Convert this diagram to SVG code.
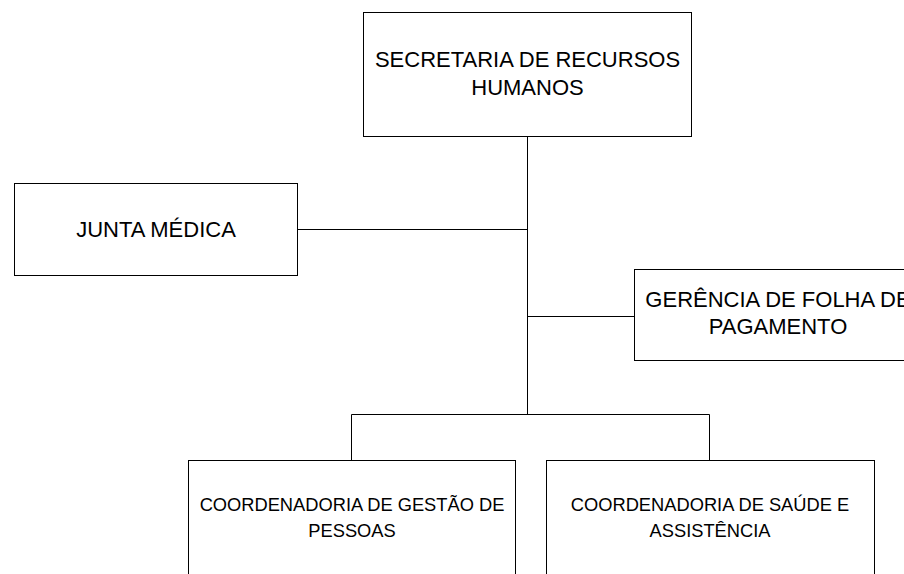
<svg xmlns="http://www.w3.org/2000/svg" width="904" height="574" viewBox="0 0 904 574">
<style>
.box{fill:#fff;stroke:#000;stroke-width:1}
.t{font-family:"Liberation Sans",Arial,sans-serif;fill:#000;text-anchor:middle}
.l{font-size:22px}
.s{font-size:18.3px}
.c{fill:none;stroke:#000;stroke-width:1}
</style>
<rect width="904" height="574" fill="#fff"/>
<g id="connectors">
<path class="c" d="M527.5 136V414.5M297 229.5H527.5M527.5 316.5H634M351.5 460V414.5H709.5V460"/>
</g>
<g id="secretaria">
<rect class="box" x="363.5" y="12.5" width="328" height="124"/>
<text class="t l" x="527.5" y="67">SECRETARIA DE RECURSOS</text>
<text class="t l" x="527.5" y="95">HUMANOS</text>
</g>
<g id="junta">
<rect class="box" x="14.5" y="183.5" width="283" height="92"/>
<text class="t l" x="156" y="237">JUNTA MÉDICA</text>
</g>
<g id="gerencia">
<rect class="box" x="634.5" y="269.5" width="292" height="91"/>
<text class="t l" x="778" y="307">GERÊNCIA DE FOLHA DE</text>
<text class="t l" x="778" y="334">PAGAMENTO</text>
</g>
<g id="gestao">
<rect class="box" x="188.5" y="460.5" width="327" height="130"/>
<text class="t s" x="352" y="511">COORDENADORIA DE GESTÃO DE</text>
<text class="t s" x="352" y="537">PESSOAS</text>
</g>
<g id="saude">
<rect class="box" x="546.5" y="460.5" width="328" height="130"/>
<text class="t s" x="710" y="511">COORDENADORIA DE SAÚDE E</text>
<text class="t s" x="710" y="537">ASSISTÊNCIA</text>
</g>
</svg>
